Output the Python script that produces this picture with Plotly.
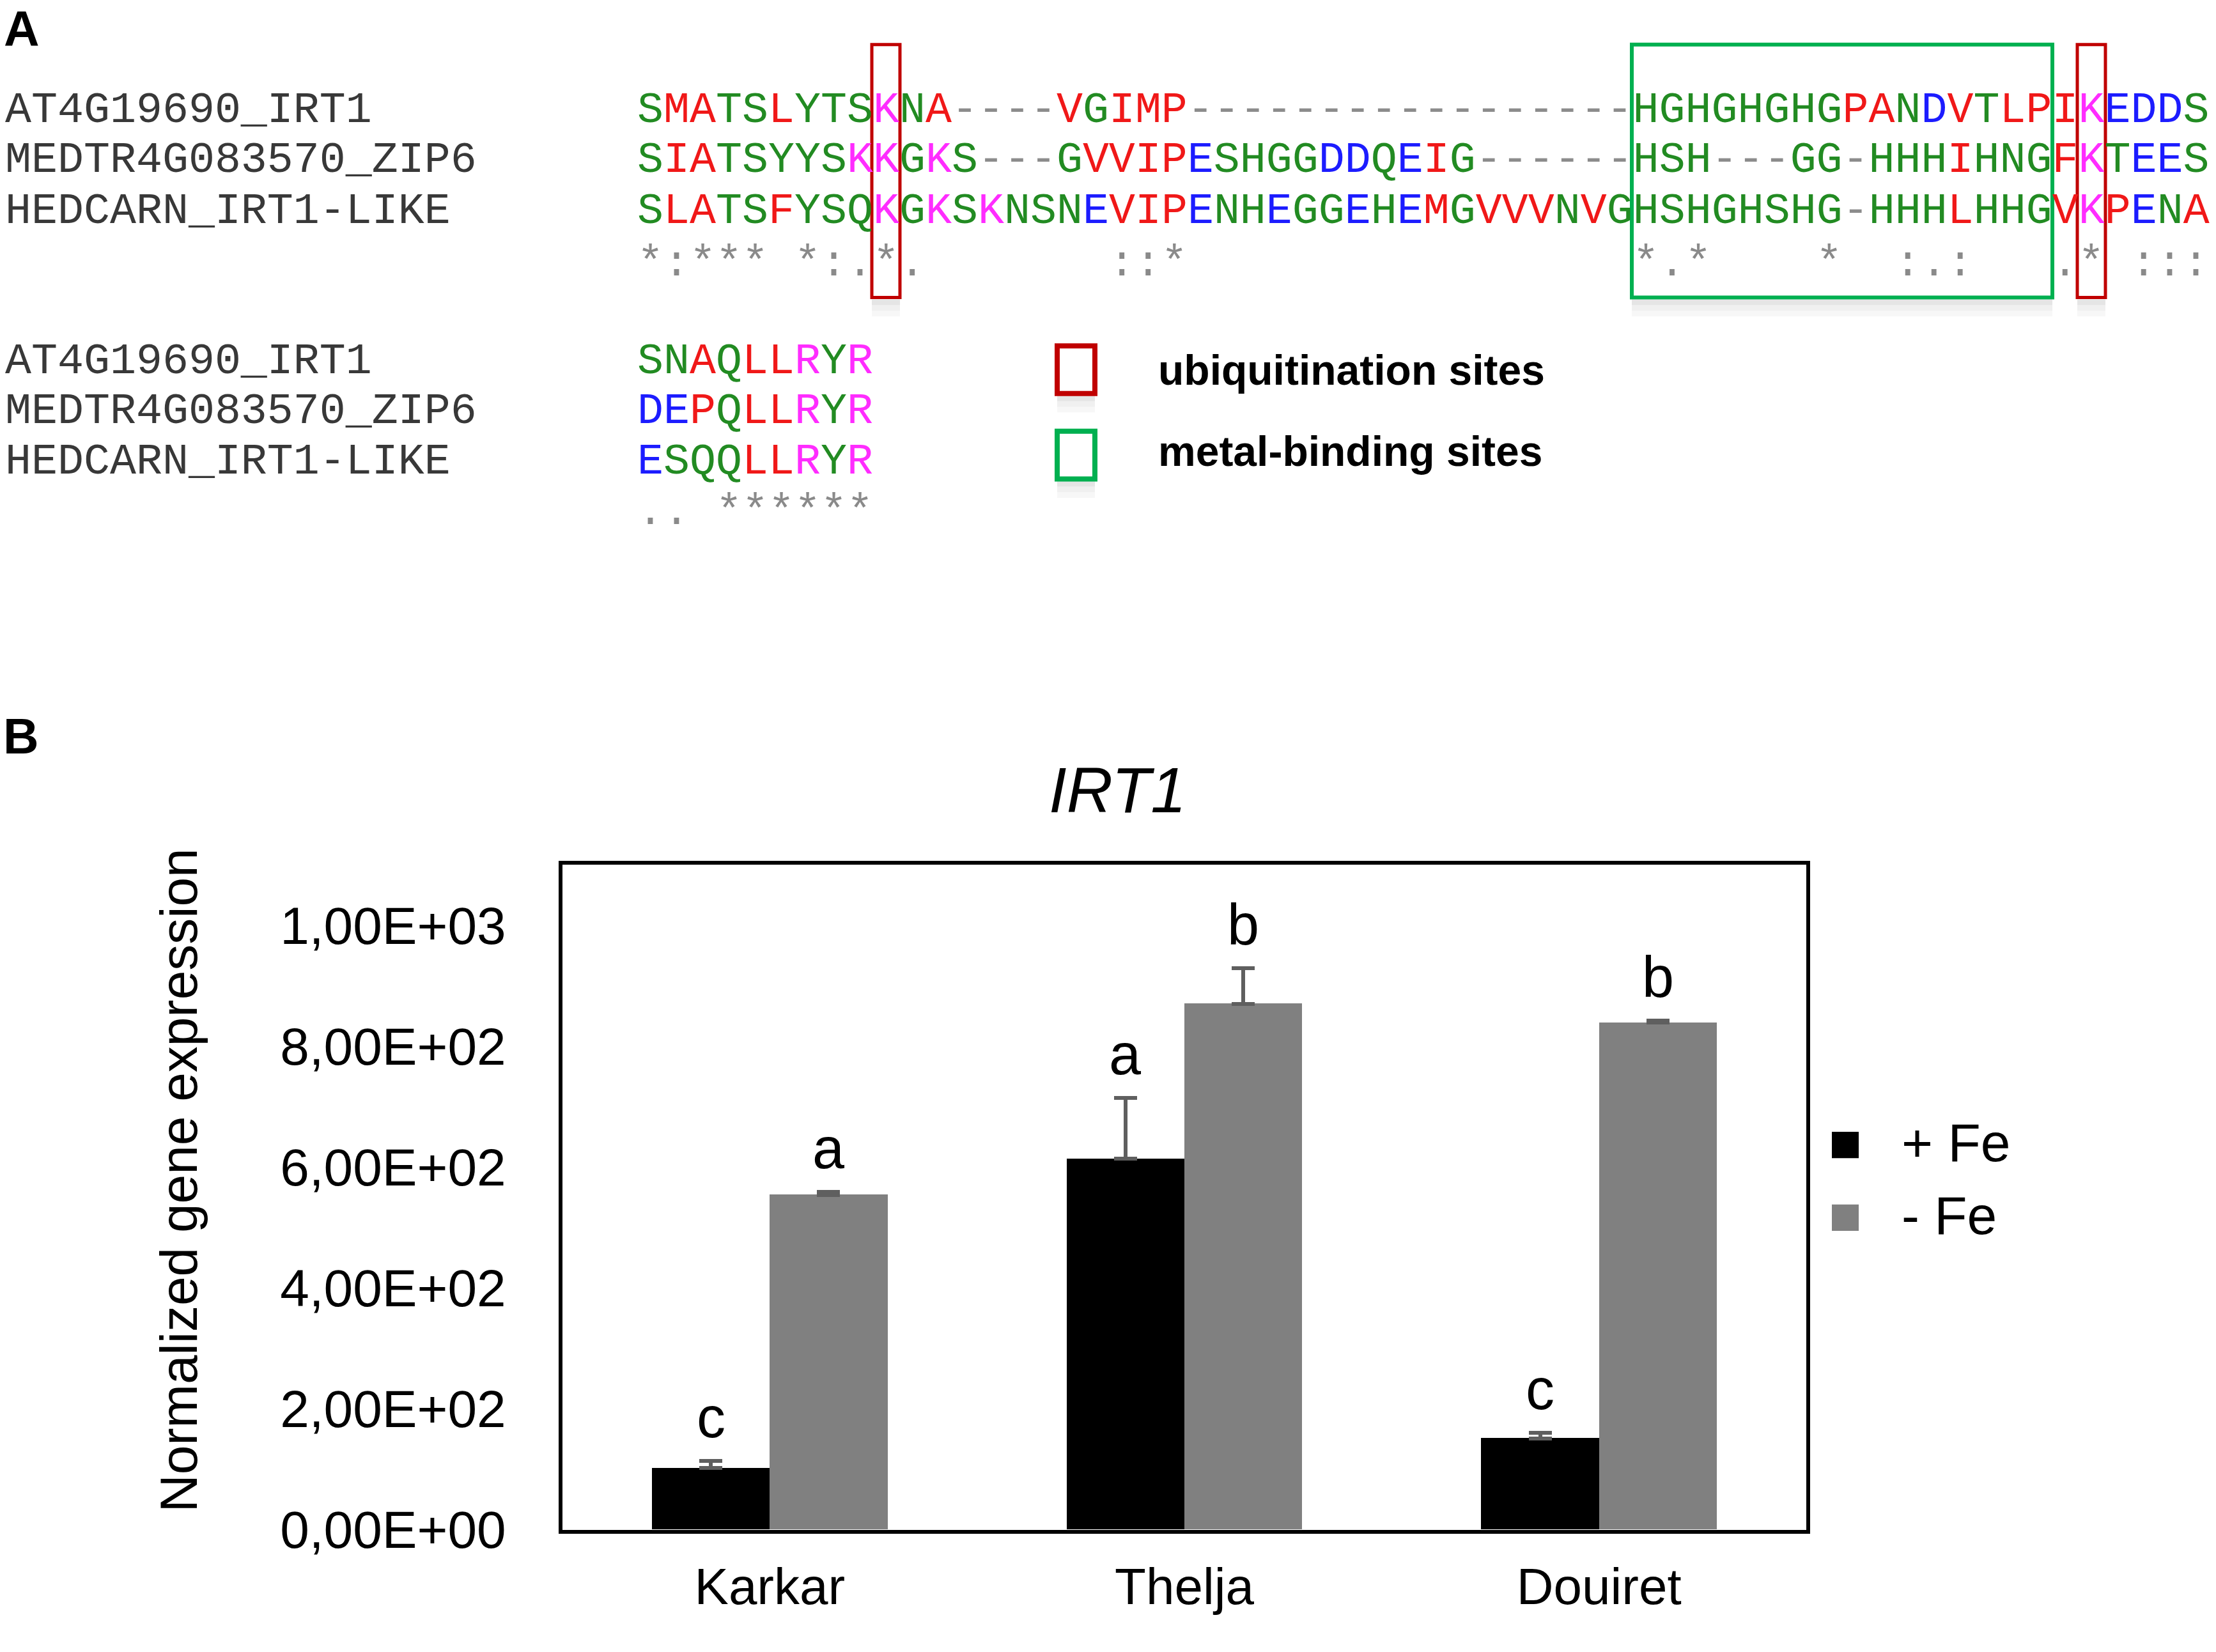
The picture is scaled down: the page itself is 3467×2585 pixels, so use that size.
import plotly.graph_objects as go

# ---------------- data ----------------
seq_names = ["AT4G19690_IRT1", "MEDTR4G083570_ZIP6", "HEDCARN_IRT1-LIKE"]
block1 = [
    "SMATSLYTSKNA----VGIMP-----------------HGHGHGHGPANDVTLPIKEDDS",
    "SIATSYYSKKGKS---GVVIPESHGGDDQEIG------HSH---GG-HHHIHNGFKTEES",
    "SLATSFYSQKGKSKNSNEVIPENHEGGEHEMGVVVNVGHSHGHSHG-HHHLHHGVKPENA",
]
consensus1 = "*:*** *:.*.       ::*                 *.*    *  :.:   .* :::"
block2 = ["SNAQLLRYR", "DEPQLLRYR", "ESQQLLRYR"]
consensus2 = ".. ******"
ubiq_cols = [10, 56]          # 1-based alignment columns
metal_cols = [39, 54]         # first / last column of metal-binding region
site_labels = ["ubiquitination sites", "metal-binding sites"]

categories = ["Karkar", "Thelja", "Douiret"]
series = ["+ Fe", "- Fe"]
plus_fe = [102, 614, 151]
plus_fe_err = [12, 100, 9]
minus_fe = [554, 870, 839]
minus_fe_err = [5, 59, 3]
plus_letters = ["c", "a", "c"]
minus_letters = ["a", "b", "b"]
y_ticks = [0, 200, 400, 600, 800, 1000]
y_ticklabels = ["0,00E+00", "2,00E+02", "4,00E+02", "6,00E+02", "8,00E+02", "1,00E+03"]
gene = "IRT1"
y_title = "Normalized gene expression"

# ---------------- layout helpers ----------------
W, H = 3467, 2585
def px(x):
    return x / W
def py(y):
    return 1 - y / H

SANS = "Liberation Sans, Arial, sans-serif"
MONO = "Liberation Mono, Courier New, monospace"
MONO_SIZE = 68.3
CH = 41.0            # char advance in px
SEQ_X = 996          # left edge of aligned sequences

GREEN, RED, BLUE, MAG, GAP = "#228b22", "#f01818", "#1c1cff", "#ff2cff", "#8c8c8c"
def aa_color(c):
    if c in "STYHCNGQ":
        return GREEN
    if c in "AVFPMILW":
        return RED
    if c in "DE":
        return BLUE
    if c in "RK":
        return MAG
    return GAP

def colored(seq):
    out, cur, buf = [], None, ""
    for c in seq:
        col = aa_color(c)
        if col != cur and buf:
            out.append(f'<span style="color:{cur}">{buf}</span>')
            buf = ""
        cur = col
        buf += c
    if buf:
        out.append(f'<span style="color:{cur}">{buf}</span>')
    return "".join(out)

annotations = []
shapes = []

def text(x, y, s, size, color="black", font=SANS, xanchor="left", yanchor="middle", angle=0):
    annotations.append(dict(x=px(x), y=py(y), xref="paper", yref="paper", text=s,
                            showarrow=False, xanchor=xanchor, yanchor=yanchor,
                            textangle=angle, borderpad=0,
                            font=dict(family=font, size=size, color=color)))

# ---- panel A ----
text(5, 1, "<b>A</b>", 77, yanchor="top")
text(4, 1173, "<b>B</b>", 77)

row_y1 = [176, 256, 337]
row_y2 = [576, 656, 736]
for i, name in enumerate(seq_names):
    text(7, row_y1[i], name, MONO_SIZE, "#383838", MONO)
    text(SEQ_X, row_y1[i], colored(block1[i]), MONO_SIZE, font=MONO)
    text(7, row_y2[i], name, MONO_SIZE, "#383838", MONO)
    text(SEQ_X, row_y2[i], colored(block2[i]), MONO_SIZE, font=MONO)
text(SEQ_X, 420, consensus1.replace(" ", "\u00a0"), MONO_SIZE, "#8a8a8a", MONO)
text(SEQ_X, 817, consensus2.replace(" ", "\u00a0"), MONO_SIZE, "#8a8a8a", MONO)

def box(x0, y0, x1, y1, color, lw):
    for k, a in enumerate([0.10, 0.06, 0.03]):
        shapes.append(dict(type="rect", xref="paper", yref="paper",
                           x0=px(x0), x1=px(x1), y0=py(y1 + 3 + 9 * k), y1=py(y1 + 3 + 9 * (k + 1)),
                           line=dict(width=0), fillcolor=f"rgba(0,0,0,{a})", layer="below"))
    shapes.append(dict(type="rect", xref="paper", yref="paper",
                       x0=px(x0), x1=px(x1), y0=py(y1), y1=py(y0),
                       line=dict(color=color, width=lw), fillcolor="rgba(0,0,0,0)"))

for c in ubiq_cols:
    box(SEQ_X + (c - 1) * CH - 1, 71, SEQ_X + c * CH + 2, 474, "#c00000", 5)
box(SEQ_X + (metal_cols[0] - 1) * CH - 1, 71, SEQ_X + metal_cols[1] * CH + 1, 474, "#00b050", 6)

box(1654, 551, 1713, 627, "#c00000", 8)
box(1654, 687, 1713, 763, "#00b050", 8)
text(1811, 589, f"<b>{site_labels[0]}</b>", 66)
text(1811, 719, f"<b>{site_labels[1]}</b>", 66)

# ---- panel B ----
BAR_W = 0.284
fig = go.Figure()
fig.add_trace(go.Bar(x=categories, y=plus_fe, name=series[0], width=BAR_W, offset=-BAR_W,
                     marker=dict(color="#000000", line=dict(width=0)),
                     error_y=dict(type="data", array=plus_fe_err, arrayminus=[0] * 3,
                                  symmetric=False, color="#5f5f5f", thickness=6, width=18)))
fig.add_trace(go.Bar(x=categories, y=minus_fe, name=series[1], width=BAR_W, offset=0,
                     marker=dict(color="#808080", line=dict(width=0)),
                     error_y=dict(type="data", array=minus_fe_err, arrayminus=[0] * 3,
                                  symmetric=False, color="#5f5f5f", thickness=6, width=18)))

PLOT_X0, PLOT_X1, PLOT_Y0, PLOT_Y1 = 880, 2826, 1378, 2437
bar_px = BAR_W * (PLOT_X1 - PLOT_X0) / len(categories)
for i, cat in enumerate(categories):
    for vals, errs, lets, sign in [(plus_fe, plus_fe_err, plus_letters, -1),
                                   (minus_fe, minus_fe_err, minus_letters, 1)]:
        annotations.append(dict(x=cat, y=vals[i] + errs[i], xref="x", yref="y",
                                text=lets[i], showarrow=False, xanchor="center",
                                yanchor="bottom", xshift=sign * bar_px / 2, yshift=16,
                                font=dict(family=SANS, size=90, color="black")))

text(1748, 1258, f"<i>{gene}</i>", 100, xanchor="center")
annotations.append(dict(x=px(280), y=py(1881), xref="paper", yref="paper", text=y_title,
                        showarrow=False, textangle=-90, xanchor="center", yanchor="middle",
                        font=dict(family=SANS, size=82, color="black")))

leg_y = [1824, 1940]
leg_col = ["#000000", "#808080"]
for k in range(2):
    shapes.append(dict(type="rect", xref="paper", yref="paper",
                       x0=px(2866), x1=px(2908), y0=py(leg_y[k] + 21), y1=py(leg_y[k] - 21),
                       line=dict(width=0), fillcolor=leg_col[k]))
    text(2974, leg_y[k] - 4, series[k], 84)

fig.update_layout(
    width=W, height=H, margin=dict(l=0, r=0, t=0, b=0),
    paper_bgcolor="white", plot_bgcolor="white", showlegend=False,
    barmode="group", bargap=0, bargroupgap=0,
    xaxis=dict(domain=[px(PLOT_X0), px(PLOT_X1)], showline=True, mirror=True,
               linecolor="black", linewidth=6, showgrid=False, zeroline=False,
               ticks="", tickfont=dict(family=SANS, size=80, color="black"),
               ticklabelstandoff=14),
    yaxis=dict(domain=[py(PLOT_Y1), py(PLOT_Y0)], range=[0, 1100], showline=True,
               mirror=True, linecolor="black", linewidth=6, showgrid=False, zeroline=False,
               ticks="", tickvals=y_ticks, ticktext=y_ticklabels,
               tickfont=dict(family=SANS, size=82, color="black"), ticklabelstandoff=66),
    annotations=annotations, shapes=shapes,
)
fig.write_html("out.html", config={"displayModeBar": False},
               post_script="document.body.style.margin='0';document.body.style.overflow='hidden';")
